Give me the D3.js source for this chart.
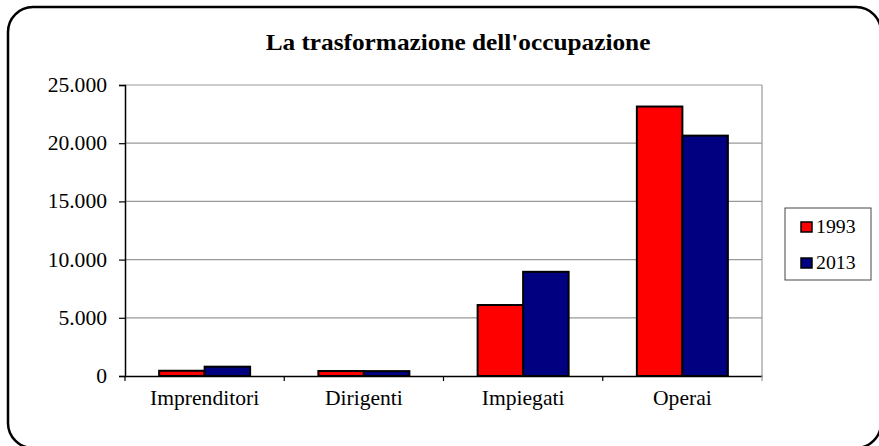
<!DOCTYPE html>
<html>
<head>
<meta charset="utf-8">
<script src="https://cdn.jsdelivr.net/npm/d3@7"></script>
<style>
  body { margin: 0; background: #fff; }
  svg { display: block; font-family: "Liberation Serif", "Times New Roman", serif; }
</style>
</head>
<body>
<svg id="chart" width="879" height="446"></svg>
<script>
// chart data
const categories = ["Imprenditori", "Dirigenti", "Impiegati", "Operai"];
const years = ["1993", "2013"];
const values1993 = [450, 430, 6100, 23150];
const values2013 = [800, 420, 8950, 20650];
const yTicks = [0, 5000, 10000, 15000, 20000, 25000];
const colors = ["#ff0000", "#000080"];

const plot = {left: 125, top: 85, right: 762, bottom: 376};
const stretch = 1.08; // text in the original is a bit wider than normal

const svg = d3.select("#chart");

// outer frame (runs slightly off the right and bottom edges, like the original)
svg.append("rect")
    .attr("x", 8).attr("y", 7)
    .attr("width", 873).attr("height", 441)
    .attr("rx", 25).attr("ry", 25)
    .attr("fill", "#fff")
    .attr("stroke", "#000")
    .attr("stroke-width", 2.5);

// title
svg.append("text")
    .attr("transform", `translate(458,50) scale(1.1,1)`)
    .attr("text-anchor", "middle")
    .style("font-size", "23px")
    .style("font-weight", "bold")
    .text("La trasformazione dell'occupazione");

const x0 = d3.scaleBand()
    .domain(categories)
    .range([plot.left, plot.right]);

const x1 = d3.scaleBand()
    .domain(years)
    .range([0, x0.bandwidth() * 2 / 3.5])
    .paddingInner(0);

const y = d3.scaleLinear()
    .domain([0, 25000])
    .range([plot.bottom, plot.top]);

// gridlines
svg.append("g")
    .selectAll("line")
    .data(yTicks.slice(1))
    .join("line")
    .attr("x1", plot.left).attr("x2", plot.right)
    .attr("y1", d => y(d)).attr("y2", d => y(d))
    .attr("stroke", "#999")
    .attr("stroke-width", 1.2);

// right border of plot area
svg.append("line")
    .attr("x1", plot.right).attr("x2", plot.right)
    .attr("y1", plot.top).attr("y2", plot.bottom)
    .attr("stroke", "#999")
    .attr("stroke-width", 1.2);

// bars
const fmt = d3.formatLocale({decimal: ",", thousands: ".", grouping: [3], currency: ["", "€"]}).format(",");
const series = [values1993, values2013];

svg.append("g")
    .selectAll("g")
    .data(categories)
    .join("g")
    .attr("transform", c => `translate(${x0(c) + (x0.bandwidth() - x1.range()[1]) / 2},0)`)
    .selectAll("rect")
    .data((c, i) => years.map((yr, k) => ({yr, v: series[k][i], k})))
    .join("rect")
    .attr("x", d => x1(d.yr))
    .attr("width", x1.bandwidth())
    .attr("y", d => y(d.v))
    .attr("height", d => y(0) - y(d.v))
    .attr("fill", d => colors[d.k])
    .attr("stroke", "#000")
    .attr("stroke-width", 2);

// y axis
const yAxis = svg.append("g")
    .attr("transform", `translate(${plot.left},0)`)
    .call(d3.axisLeft(y).tickValues(yTicks).tickFormat(fmt).tickSizeOuter(0).tickSize(6));
yAxis.select(".domain").attr("stroke", "#000").attr("stroke-width", 1.5);
yAxis.selectAll(".tick line").attr("stroke", "#000").attr("stroke-width", 1.2);
yAxis.selectAll("text")
    .attr("x", -18 / stretch)
    .attr("transform", `scale(${stretch},1)`)
    .style("font-size", "20px")
    .style("font-family", "Liberation Serif, serif")
    .attr("fill", "#000");

// x axis
const xAxis = svg.append("g")
    .attr("transform", `translate(0,${plot.bottom})`)
    .call(d3.axisBottom(x0).tickSize(0));
xAxis.select(".domain").attr("stroke", "#000").attr("stroke-width", 1.5);
xAxis.selectAll("text")
    .attr("y", 29)
    .attr("dy", null)
    .attr("transform", `scale(${stretch},1)`)
    .style("font-size", "20px")
    .style("font-family", "Liberation Serif, serif")
    .attr("fill", "#000");
xAxis.selectAll(".tick")
    .attr("transform", c => `translate(${x0(c) + x0.bandwidth() / 2},0)`);

// category separator ticks
const sepX = categories.map(c => x0(c)).concat([x0.range()[1]]);
svg.append("g")
    .selectAll("line")
    .data(sepX)
    .join("line")
    .attr("x1", d => d).attr("x2", d => d)
    .attr("y1", plot.bottom).attr("y2", plot.bottom + 5)
    .attr("stroke", (d, i) => i === sepX.length - 1 ? "#999" : "#000")
    .attr("stroke-width", 1.2);

// legend
const legend = svg.append("g");
legend.append("rect")
    .attr("x", 785).attr("y", 208)
    .attr("width", 86).attr("height", 72)
    .attr("fill", "#fff")
    .attr("stroke", "#444")
    .attr("stroke-width", 1);

const legY = d3.scalePoint().domain(years).range([227, 263]);
years.forEach((yr, k) => {
    legend.append("rect")
        .attr("x", 801).attr("y", legY(yr) - 5)
        .attr("width", 11).attr("height", 10)
        .attr("fill", colors[k])
        .attr("stroke", "#000")
        .attr("stroke-width", 1.5);
    legend.append("text")
        .attr("transform", `translate(816,${legY(yr) + 6}) scale(1.1,1)`)
        .style("font-size", "18px")
        .text(yr);
});
</script>
</body>
</html>
